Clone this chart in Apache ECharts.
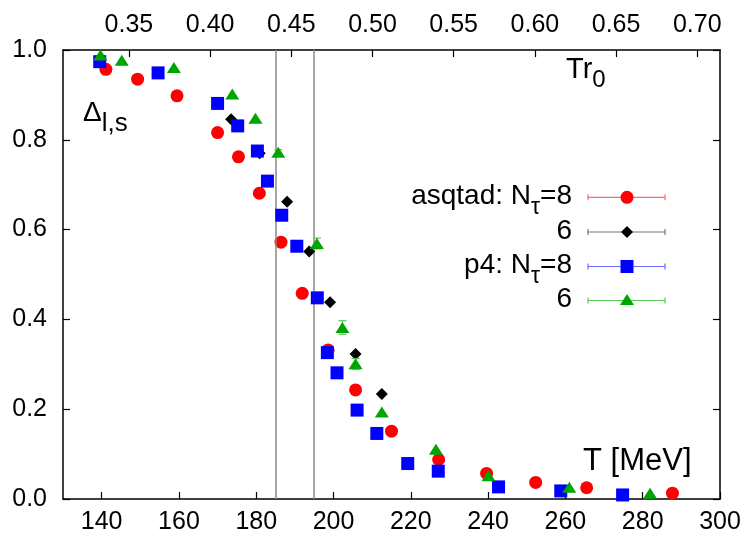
<!DOCTYPE html>
<html>
<head>
<meta charset="utf-8">
<script src="https://cdn.jsdelivr.net/npm/echarts@6/dist/echarts.min.js"></script>
<style>
  html, body { margin: 0; padding: 0; background: #fff; }
  #chart { width: 747px; height: 539px; }
</style>
</head>
<body>
<div id="chart"></div>
<script>
// Chiral condensate difference vs temperature, two actions and two lattice sizes.

// asqtad, N_tau = 8
const asqtad8T = [141.1, 149.3, 159.5, 170.0, 175.4, 180.8, 186.4, 191.9, 198.6, 205.7, 215.0, 227.2, 239.6, 252.3, 265.5, 287.7];
const asqtad8D = [0.957, 0.935, 0.898, 0.816, 0.762, 0.681, 0.572, 0.458, 0.332, 0.243, 0.151, 0.088, 0.057, 0.037, 0.025, 0.013];
const asqtad8E = [0, 0, 0, 0, 0, 0, 0, 0, 0, 0, 0, 0, 0, 0, 0, 0];

// asqtad, N_tau = 6
const asqtad6T = [173.5, 180.9, 188.0, 193.7, 199.1, 205.7, 212.5];
const asqtad6D = [0.846, 0.770, 0.662, 0.551, 0.438, 0.323, 0.234];
const asqtad6E = [0, 0, 0, 0, 0, 0, 0];

// p4, N_tau = 8
const p48T = [139.5, 154.6, 170.0, 175.2, 180.3, 182.9, 186.6, 190.5, 195.8, 198.4, 200.9, 206.1, 211.2, 219.2, 227.1, 242.7, 258.8, 274.8];
const p48D = [0.974, 0.949, 0.881, 0.831, 0.775, 0.708, 0.632, 0.563, 0.448, 0.326, 0.281, 0.198, 0.146, 0.079, 0.062, 0.027, 0.018, 0.009];
const p48E = [0, 0, 0, 0, 0, 0, 0, 0, 0, 0.008, 0, 0, 0, 0, 0, 0, 0, 0];

// p4, N_tau = 6
const p46T = [139.7, 145.2, 158.7, 173.8, 179.8, 185.7, 195.7, 202.3, 205.7, 212.5, 226.5, 240.1, 261.0, 281.9];
const p46D = [0.989, 0.977, 0.961, 0.902, 0.848, 0.772, 0.569, 0.382, 0.301, 0.194, 0.111, 0.052, 0.026, 0.013];
const p46E = [0, 0, 0, 0, 0, 0.006, 0.012, 0.015, 0.012, 0, 0, 0, 0, 0];

// transition band edges [MeV]
const bandEdges = [185, 195];

// axes
const tRange = [130, 300];
const tTicks = [140, 160, 180, 200, 220, 240, 260, 280, 300];
const r0 = 0.00238; // r0 in MeV^-1, top axis shows T*r0
const trTicks = [0.35, 0.40, 0.45, 0.50, 0.55, 0.60, 0.65, 0.70];
const yTicks = [0, 0.2, 0.4, 0.6, 0.8, 1.0];

const FONT = 'Liberation Sans, Arial, Helvetica, sans-serif';

const groups = [
  { name: 'asqtad: N\u03c4=8', T: asqtad8T, D: asqtad8D, E: asqtad8E, color: '#ff0000', bar: '#ff6a6a', symbol: 'circle', size: 13 },
  { name: 'asqtad: N\u03c4=6', T: asqtad6T, D: asqtad6D, E: asqtad6E, color: '#000000', bar: '#777777', symbol: 'diamond', size: [12, 12] },
  { name: 'p4: N\u03c4=8', T: p48T, D: p48D, E: p48E, color: '#0000ff', bar: '#6a6aff', symbol: 'rect', size: 13 },
  { name: 'p4: N\u03c4=6', T: p46T, D: p46D, E: p46E, color: '#00a600', bar: '#55cc55', symbol: 'triangle', size: [14, 11] }
];

const chart = echarts.init(document.getElementById('chart'), null, { renderer: 'canvas' });

const series = [];
groups.forEach(function (g, gi) {
  const pts = g.T.map(function (t, i) { return [t, g.D[i], g.E[i]]; });
  series.push({
    type: 'custom',
    name: g.name + ' err',
    xAxisIndex: 0, yAxisIndex: 0,
    z: 2 + gi * 2,
    silent: true,
    data: pts.filter(function (p) { return p[2] > 0; }),
    renderItem: function (params, api) {
      const x = api.value(0), y = api.value(1), e = api.value(2);
      const lo = api.coord([x, y - e]);
      const hi = api.coord([x, y + e]);
      const st = { stroke: g.bar, lineWidth: 1.2 };
      return {
        type: 'group',
        children: [
          { type: 'line', shape: { x1: lo[0], y1: lo[1], x2: hi[0], y2: hi[1] }, style: st },
          { type: 'line', shape: { x1: lo[0] - 4, y1: lo[1], x2: lo[0] + 4, y2: lo[1] }, style: st },
          { type: 'line', shape: { x1: hi[0] - 4, y1: hi[1], x2: hi[0] + 4, y2: hi[1] }, style: st }
        ]
      };
    }
  });
  series.push({
    type: 'scatter',
    name: g.name,
    xAxisIndex: 0, yAxisIndex: 0,
    z: 3 + gi * 2,
    symbol: g.symbol,
    symbolSize: g.size,
    itemStyle: { color: g.color, opacity: 1 },
    data: pts.map(function (p) { return [p[0], p[1]]; }),
    animation: false
  });
});

// vertical band edges
series.push({
  type: 'line',
  name: 'band',
  data: [],
  z: 1,
  markLine: {
    silent: true,
    symbol: ['none', 'none'],
    label: { show: false },
    lineStyle: { color: '#8a8a8a', width: 1.5, type: 'solid' },
    data: bandEdges.map(function (v) { return { xAxis: v }; })
  }
});

// text helpers: place text pieces by baseline using canvas metrics
const measureCtx = document.createElement('canvas').getContext('2d');
function textWidth(str, size) {
  measureCtx.font = size + 'px ' + FONT;
  return measureCtx.measureText(str).width;
}
function midFromBaseline(baseline, size) {
  return baseline - 0.3465 * size;
}
// parts: [{t, size, dy}] ; align 'left' starting at x or 'right' ending at x
function placeParts(parts, x, baseline, align) {
  const widths = parts.map(function (p) { return textWidth(p.t, p.size); });
  const total = widths.reduce(function (a, b) { return a + b; }, 0);
  let cx = align === 'right' ? x - total : x;
  const out = [];
  parts.forEach(function (p, i) {
    out.push({
      type: 'text',
      x: cx,
      y: midFromBaseline(baseline + (p.dy || 0), p.size),
      silent: true,
      z: 100,
      style: {
        text: p.t,
        font: p.size + 'px ' + FONT,
        fill: '#000',
        align: 'left',
        verticalAlign: 'middle'
      }
    });
    cx += widths[i];
  });
  return out;
}

const graphics = [];
// y-axis quantity
graphics.push.apply(graphics, placeParts([
  { t: '\u0394', size: 28 },
  { t: 'l,s', size: 26, dy: 10 }
], 83, 123, 'left'));
// top axis quantity
graphics.push.apply(graphics, placeParts([
  { t: 'Tr', size: 29 },
  { t: '0', size: 24, dy: 9 }
], 566, 80, 'left'));
// bottom axis quantity
graphics.push.apply(graphics, placeParts([
  { t: 'T [MeV]', size: 31 }
], 583, 472, 'left'));

// key
const keyRows = [
  { parts: [{ t: 'asqtad: N', size: 28 }, { t: '\u03c4', size: 23, dy: 10 }, { t: '=8', size: 28 }], y: 197.3 },
  { parts: [{ t: '6', size: 28 }], y: 232 },
  { parts: [{ t: 'p4: N', size: 28 }, { t: '\u03c4', size: 23, dy: 10 }, { t: '=8', size: 28 }], y: 266.5 },
  { parts: [{ t: '6', size: 28 }], y: 300.5 }
];
const keyX0 = 588, keyX1 = 665, keyMid = 627;
keyRows.forEach(function (row, i) {
  const g = groups[i];
  graphics.push.apply(graphics, placeParts(row.parts, 572, row.y + 8.5, 'right'));
  const st = { stroke: g.bar, lineWidth: 1.2 };
  graphics.push({ type: 'line', silent: true, z: 100, shape: { x1: keyX0, y1: row.y, x2: keyX1, y2: row.y }, style: st });
  graphics.push({ type: 'line', silent: true, z: 100, shape: { x1: keyX0, y1: row.y - 3, x2: keyX0, y2: row.y + 3 }, style: st });
  graphics.push({ type: 'line', silent: true, z: 100, shape: { x1: keyX1, y1: row.y - 3, x2: keyX1, y2: row.y + 3 }, style: st });
  let mk;
  if (g.symbol === 'circle') {
    mk = { type: 'circle', shape: { cx: keyMid, cy: row.y, r: 6.5 } };
  } else if (g.symbol === 'rect') {
    mk = { type: 'rect', shape: { x: keyMid - 6.5, y: row.y - 6.5, width: 13, height: 13 } };
  } else if (g.symbol === 'diamond') {
    mk = { type: 'polygon', shape: { points: [[keyMid, row.y - 6], [keyMid + 6, row.y], [keyMid, row.y + 6], [keyMid - 6, row.y]] } };
  } else {
    mk = { type: 'polygon', shape: { points: [[keyMid, row.y - 6.5], [keyMid + 7, row.y + 4.5], [keyMid - 7, row.y + 4.5]] } };
  }
  mk.silent = true;
  mk.z = 101;
  mk.style = { fill: g.color };
  graphics.push(mk);
});

const axisLineStyle = { color: '#000', width: 1.5 };
const tickStyle = { color: '#000', width: 1.2 };
const labelBase = { color: '#000', fontSize: 25, fontFamily: FONT };

const option = {
  animation: false,
  backgroundColor: '#fff',
  grid: { left: 63, right: 27, top: 50, bottom: 40, containLabel: false },
  xAxis: [
    {
      type: 'value', position: 'bottom', min: tRange[0], max: tRange[1],
      axisLine: { show: true, onZero: false, lineStyle: axisLineStyle },
      axisTick: { show: true, inside: true, length: 7, customValues: tTicks, lineStyle: tickStyle },
      axisLabel: Object.assign({ customValues: tTicks, margin: 11, formatter: function (v) { return String(v); } }, labelBase),
      splitLine: { show: false }
    },
    {
      type: 'value', position: 'top', min: tRange[0] * r0, max: tRange[1] * r0,
      axisLine: { show: true, onZero: false, lineStyle: axisLineStyle },
      axisTick: { show: true, inside: true, length: 7, customValues: trTicks, lineStyle: tickStyle },
      axisLabel: Object.assign({ customValues: trTicks, margin: 12, formatter: function (v) { return v.toFixed(2); } }, labelBase),
      splitLine: { show: false }
    }
  ],
  yAxis: [
    {
      type: 'value', position: 'left', min: 0, max: 1,
      axisLine: { show: true, onZero: false, lineStyle: axisLineStyle },
      axisTick: { show: true, inside: true, length: 7, customValues: yTicks, lineStyle: tickStyle },
      axisLabel: Object.assign({ customValues: yTicks, margin: 16, formatter: function (v) { return v.toFixed(1); } }, labelBase),
      splitLine: { show: false }
    },
    {
      type: 'value', position: 'right', min: 0, max: 1,
      axisLine: { show: true, onZero: false, lineStyle: axisLineStyle },
      axisTick: { show: true, inside: true, length: 7, customValues: yTicks, lineStyle: tickStyle },
      axisLabel: { show: false },
      splitLine: { show: false }
    }
  ],
  series: series,
  graphic: graphics
};

chart.setOption(option);
</script>
</body>
</html>
